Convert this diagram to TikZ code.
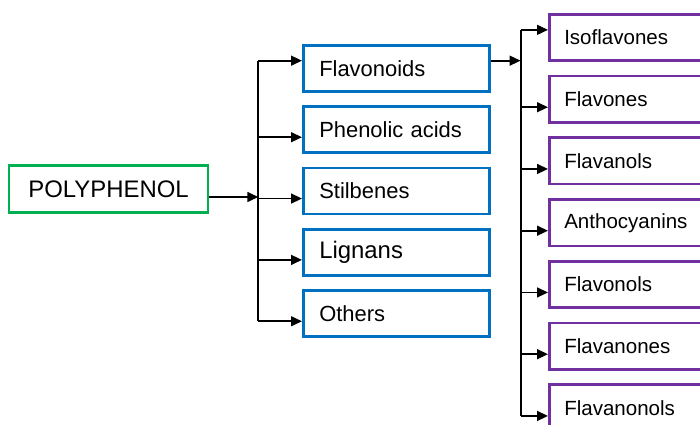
\documentclass[tikz,border=0pt]{standalone}
\usepackage{fontspec}
\setmainfont{Liberation Sans}
\usepackage{tikz}
\usetikzlibrary{positioning, arrows.meta, calc}

\definecolor{polygreen}{RGB}{0,176,80}
\definecolor{classblue}{RGB}{0,112,192}
\definecolor{subpurple}{RGB}{112,48,160}

\begin{document}
\begin{tikzpicture}[
  x=0.025cm, y=-0.025cm,
  rootbox/.style={draw=polygreen, line width=1.8pt, minimum width=4.975cm, minimum height=1.175cm, inner sep=0pt, font=\fontsize{17}{20}\selectfont},
  classbox/.style={draw=classblue, line width=1.8pt, text width=3.85cm, align=left, inner xsep=0.4cm, inner ysep=0pt, minimum height=1.15cm, font=\fontsize{15.6}{18}\selectfont},
  subbox/.style={draw=subpurple, line width=1.8pt, text width=3.75cm, align=left, inner xsep=0.375cm, inner ysep=0pt, minimum height=1.16cm, font=\fontsize{14.6}{17}\selectfont},
  line/.style={line width=1.3pt},
  arrow/.style={line, -{Triangle[length=7.8pt, width=7pt]}}
]
\clip (0,0) rectangle (700,425);

% ===== Root =====
\node[rootbox] (poly) at (108.5,189) {POLYPHENOL};

% ===== Classes =====
\node[classbox, anchor=north west] (flav) at (302,44) {Flavonoids};
\node[classbox, below=0.32cm of flav] (phen) {Phenolic acids};
\node[classbox, below=0.32cm of phen] (stil) {Stilbenes};
\node[classbox, below=0.32cm of stil, font=\fontsize{17}{20}\selectfont] (lign) {Lignans};
\node[classbox, below=0.32cm of lign] (oth) {Others};

% ===== Flavonoid subclasses =====
\node[subbox, anchor=north west] (iso) at (548,13) {Isoflavones};
\node[subbox, below=0.32cm of iso] (fone) {Flavones};
\node[subbox, below=0.32cm of fone] (fanol) {Flavanols};
\node[subbox, below=0.32cm of fanol] (antho) {Anthocyanins};
\node[subbox, below=0.32cm of antho] (fonol) {Flavonols};
\node[subbox, below=0.32cm of fonol] (fanone) {Flavanones};
\node[subbox, below=0.32cm of fanone] (fanonol) {Flavanonols};

% ===== Entry points =====
\foreach \n/\s in {flav/0.19, phen/-0.19, stil/-0.19, lign/-0.19, oth/-0.19,
  iso/0.19, fone/-0.2, fanol/-0.2, antho/-0.2, fonol/-0.2, fanone/-0.2, fanonol/-0.2}
  \coordinate (\n-in) at ([yshift=\s cm]\n.west);

\coordinate (split) at ([xshift=1.225cm, yshift=-0.2cm]poly.east);
\coordinate (split2) at ([xshift=0.75cm, yshift=0.19cm]flav.east);

% ===== First level =====
\draw[arrow] ([yshift=-0.2cm]poly.east) -- (split);
\draw[line] (split |- flav-in) -- (split |- oth-in);
\foreach \n in {flav, phen, stil, lign, oth}
  \draw[arrow] (split |- \n-in) -- (\n-in);

% ===== Second level =====
\draw[arrow] ([yshift=0.19cm]flav.east) -- (split2);
\draw[line] (split2 |- iso-in) -- (split2 |- fanonol-in);
\foreach \n in {iso, fone, fanol, antho, fonol, fanone, fanonol}
  \draw[arrow] (split2 |- \n-in) -- (\n-in);

\end{tikzpicture}
\end{document}
